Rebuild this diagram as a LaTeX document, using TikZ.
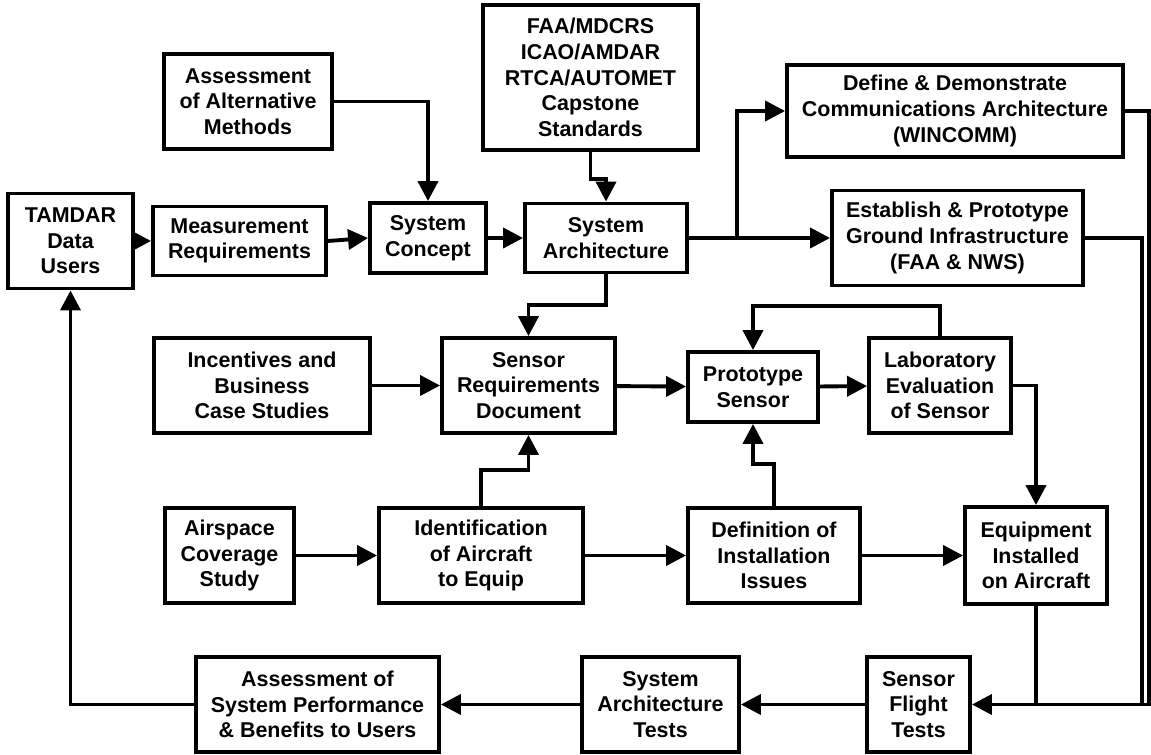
\documentclass[tikz,border=0pt]{standalone}
\usepackage{fontspec}
\setmainfont{Liberation Sans}
\usetikzlibrary{arrows.meta}

\tikzset{
	blk/.style={draw=black, line width=2.2pt, align=center, inner sep=2pt,
		font=\bfseries\fontsize{12.2}{14.6}\selectfont},
	flow/.style={line width=2.2pt, -{Triangle[length=0.4cm,width=0.4cm]}},
	wire/.style={line width=2.2pt}
}

\begin{document}
\begin{tikzpicture}
	\useasboundingbox (0,0) rectangle (23.02,-15.1);
	% top rows
	\node[blk, minimum width=2.5cm, minimum height=1.9cm] (users) at (1.41,-4.82) {TAMDAR\\Data\\Users};
	\node[blk, minimum width=3.46cm, minimum height=1.38cm] (meas) at (4.79,-4.82) {Measurement\\Requirements};
	\node[blk, minimum width=3.36cm, minimum height=1.9cm] (alt) at (4.96,-2.03) {Assessment\\of Alternative\\Methods};
	\node[blk, minimum width=2.32cm, minimum height=1.4cm] (concept) at (8.56,-4.76) {System\\Concept};
	\node[blk, minimum width=4.3cm, minimum height=2.9cm] (stds) at (11.81,-1.55) {FAA/MDCRS\\ICAO/AMDAR\\RTCA/AUTOMET\\Capstone\\Standards};
	\node[blk, minimum width=3.24cm, minimum height=1.38cm] (arch) at (12.12,-4.76) {System\\Architecture};
	\node[blk, minimum width=6.72cm, minimum height=1.84cm] (comm) at (19.1,-2.22) {Define \& Demonstrate\\Communications Architecture\\(WINCOMM)};
	\node[blk, minimum width=5.02cm, minimum height=1.9cm] (ground) at (19.15,-4.76) {Establish \& Prototype\\Ground Infrastructure\\(FAA \& NWS)};
	% sensor rows
	\node[blk, minimum width=4.32cm, minimum height=1.9cm] (incent) at (5.24,-7.71) {Incentives and\\Business\\Case Studies};
	\node[blk, minimum width=3.46cm, minimum height=1.9cm] (sreq) at (10.57,-7.71) {Sensor\\Requirements\\Document};
	\node[blk, minimum width=2.6cm, minimum height=1.4cm] (proto) at (15.06,-7.74) {Prototype\\Sensor};
	\node[blk, minimum width=2.84cm, minimum height=1.9cm] (lab) at (18.8,-7.71) {Laboratory\\Evaluation\\of Sensor};
	\node[blk, minimum width=2.58cm, minimum height=1.9cm] (air) at (4.59,-11.11) {Airspace\\Coverage\\Study};
	\node[blk, minimum width=4.08cm, minimum height=1.9cm] (ident) at (9.62,-11.11) {Identification\\of Aircraft\\to Equip};
	\node[blk, minimum width=3.44cm, minimum height=1.9cm] (instal) at (15.48,-11.11) {Definition of\\Installation\\Issues};
	\node[blk, minimum width=2.84cm, minimum height=1.94cm] (equip) at (20.72,-11.11) {Equipment\\Installed\\on Aircraft};
	% tests
	\node[blk, minimum width=2.06cm, minimum height=1.9cm] (flight) at (18.37,-14.09) {Sensor\\Flight\\Tests};
	\node[blk, minimum width=3.14cm, minimum height=1.9cm] (sattests) at (13.21,-14.09) {System\\Architecture\\Tests};
	\node[blk, minimum width=4.86cm, minimum height=1.9cm] (perf) at (6.35,-14.09) {Assessment of\\System Performance\\\& Benefits to Users};

	\coordinate (split) at (14.74,-4.76);
	\coordinate (railA) at (22.98,-14.09);
	\coordinate (railB) at (22.84,-14.09);

	\draw[flow] (users) -- (meas);
	\draw[flow] (meas.east) -- (concept.west);
	\draw[flow] (alt.east) -| (concept.north);
	\draw[flow] (stds.south) -- ++(0,-0.54) -| (arch.north);
	\draw[flow] (concept) -- (arch);
	\draw[flow] (arch.east) -- (ground.west);
	\draw[flow] (split) |- (comm.west);
	\draw[flow] (comm.east) -| (railA) -- (flight.east);
	\draw[wire] (ground.east) -| (railB);
	\draw[wire] (equip.south) -- (equip.south |- flight.east);

	\draw[flow] (arch.south) -- ++(0,-0.62) -| (sreq.north);
	\draw[flow] (incent) -- (sreq);
	\draw[flow] (sreq) -- (proto);
	\draw[flow] (proto) -- (lab);
	\draw[flow] (lab.north) -- ++(0,0.6) -| (proto.north);
	\draw[flow] (lab.east) -| (equip.north);
	\draw[flow] (air) -- (ident);
	\draw[flow] (ident.north) -- ++(0,0.72) -| (sreq.south);
	\draw[flow] (ident) -- (instal);
	\draw[flow] (instal.north) -- ++(0,0.84) -| (proto.south);
	\draw[flow] (instal) -- (equip);

	\draw[flow] (flight) -- (sattests);
	\draw[flow] (sattests) -- (perf);
	\draw[flow] (perf.west) -| (users.south);
\end{tikzpicture}
\end{document}
